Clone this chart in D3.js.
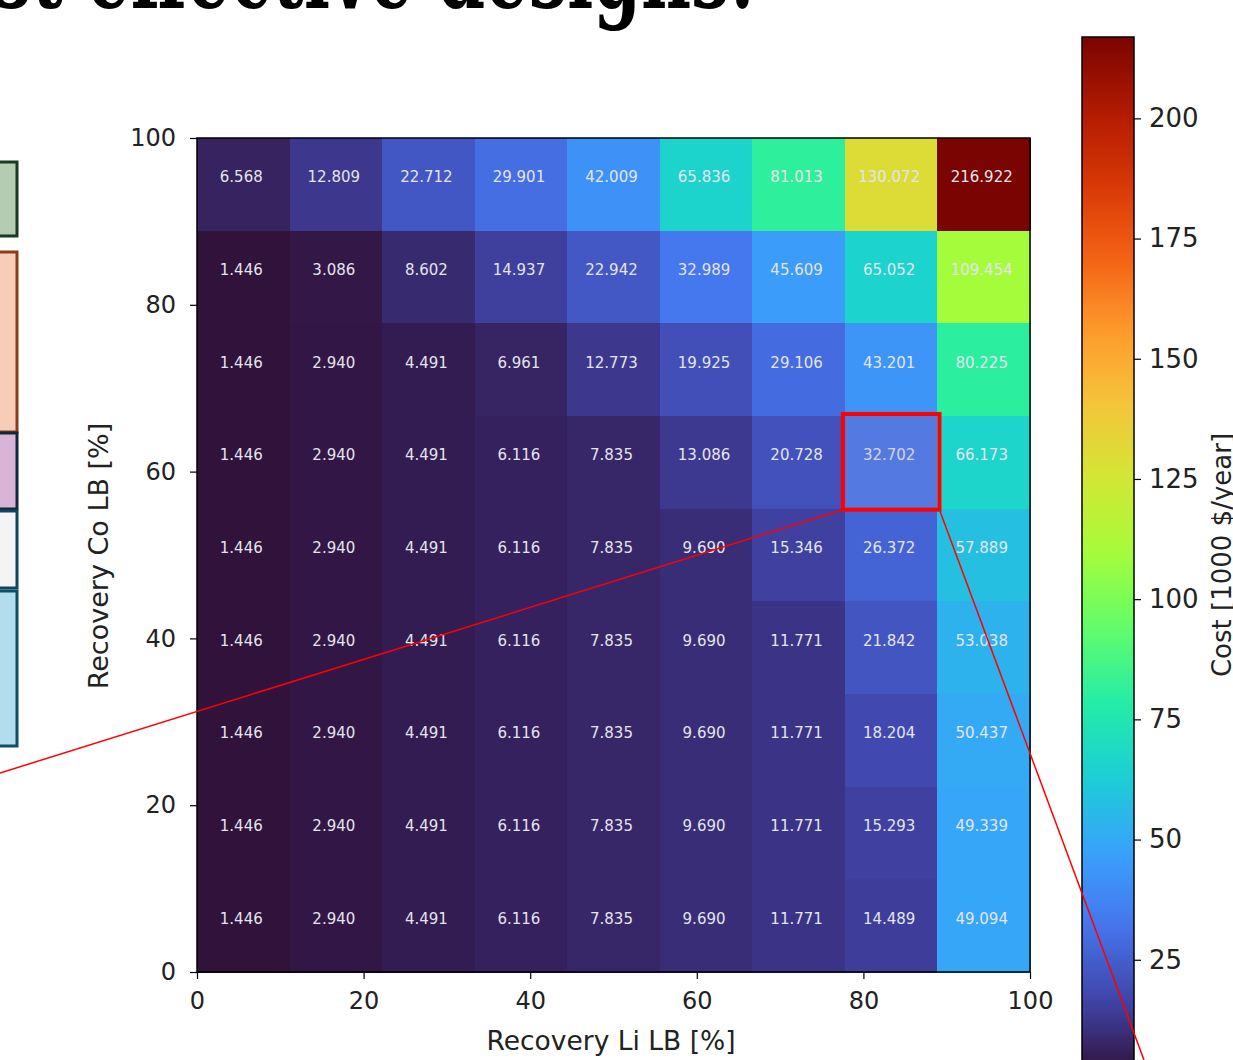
<!DOCTYPE html>
<html>
<head>
<meta charset="utf-8">
<script src="https://cdn.jsdelivr.net/npm/d3@7"></script>
<style>
  body { margin: 0; background: #fff; }
  svg { display: block; }
</style>
</head>
<body>
<div id="chart"></div>
<script>
// --------------------------------------
//  Data
// --------------------------------------

const liTicks = [0, 20, 40, 60, 80, 100];
const coTicks = [0, 20, 40, 60, 80, 100];
const costTicks = [25, 50, 75, 100, 125, 150, 175, 200];

// rows listed top (highest Co LB) to bottom
const costRows = [
  [6.568, 12.809, 22.712, 29.901, 42.009, 65.836, 81.013, 130.072, 216.922],
  [1.446, 3.086, 8.602, 14.937, 22.942, 32.989, 45.609, 65.052, 109.454],
  [1.446, 2.940, 4.491, 6.961, 12.773, 19.925, 29.106, 43.201, 80.225],
  [1.446, 2.940, 4.491, 6.116, 7.835, 13.086, 20.728, 32.702, 66.173],
  [1.446, 2.940, 4.491, 6.116, 7.835, 9.690, 15.346, 26.372, 57.889],
  [1.446, 2.940, 4.491, 6.116, 7.835, 9.690, 11.771, 21.842, 53.038],
  [1.446, 2.940, 4.491, 6.116, 7.835, 9.690, 11.771, 18.204, 50.437],
  [1.446, 2.940, 4.491, 6.116, 7.835, 9.690, 11.771, 15.293, 49.339],
  [1.446, 2.940, 4.491, 6.116, 7.835, 9.690, 11.771, 14.489, 49.094]
];

// highlighted design (column, row from top)
const highlight = {col: 7, row: 3};

// matplotlib-style turbo colormap stops
const turboStops = ["#30123b", "#4145ab", "#4675ed", "#39a2fc", "#1bcfd4",
  "#24eca6", "#61fc6c", "#a4fc3b", "#d1e834", "#f3c63a", "#fe9b2d",
  "#f36315", "#d93806", "#b11901", "#7a0402"];
const turbo = d3.piecewise(d3.interpolateRgb, turboStops);

// --------------------------------------
//  Canvas
// --------------------------------------

const width = 1233;
const height = 1060;
const plot = {left: 197, right: 1030, top: 138, bottom: 972};
const cbar = {left: 1082, right: 1134, top: 37, bottom: 1073};

const svg = d3.select("#chart")
  .append("svg")
    .attr("width", width)
    .attr("height", height);

const nCols = costRows[0].length;
const step = 100 / nCols;

const cells = [];
costRows.forEach((row, r) => row.forEach((v, c) => {
  cells.push({col: c, row: r, v: v, li0: c * step, co1: 100 - r * step});
}));

// --------------------------------------
//  Scales
// --------------------------------------

const vmin = d3.min(cells, d => d.v);
const vmax = d3.max(cells, d => d.v);

const x = d3.scaleLinear().domain([0, 100]).range([plot.left, plot.right]);
const y = d3.scaleLinear().domain([0, 100]).range([plot.bottom, plot.top]);
const color = d3.scaleSequential(turbo).domain([vmin, vmax]);
const cy = d3.scaleLinear().domain([vmin, vmax]).range([cbar.bottom, cbar.top]);

// --------------------------------------
//  Title (cropped) and side boxes
// --------------------------------------

const titleFont = "'DejaVu Serif', 'Liberation Serif', serif";
const probe = svg.append("text")
    .attr("font-family", titleFont)
    .attr("font-weight", "bold")
    .attr("font-size", 104)
    .text("effective designs:");
const sx = 668 / probe.node().getComputedTextLength();
probe.remove();

svg.append("text")
    .attr("transform", `translate(755, 8) scale(${sx}, 1)`)
    .attr("text-anchor", "end")
    .attr("font-family", titleFont)
    .attr("font-weight", "bold")
    .attr("font-size", 104)
    .attr("fill", "#000")
    .text("Most effective designs:");

const sideBoxes = [
  {y0: 162, y1: 236, fill: "#b4ccb2", stroke: "#183a22"},
  {y0: 252, y1: 432, fill: "#f7cdb9", stroke: "#8a3c1c"},
  {y0: 433, y1: 509, fill: "#d9b4d6", stroke: "#10283a"},
  {y0: 511, y1: 588, fill: "#f4f4f4", stroke: "#0e4660"},
  {y0: 591, y1: 746, fill: "#b3dcec", stroke: "#0e4e6a"}
];

svg.append("g")
  .selectAll("rect")
  .data(sideBoxes)
  .join("rect")
    .attr("x", -20)
    .attr("y", d => d.y0)
    .attr("width", 37)
    .attr("height", d => d.y1 - d.y0)
    .attr("fill", d => d.fill)
    .attr("stroke", d => d.stroke)
    .attr("stroke-width", 3);

// --------------------------------------
//  Heatmap
// --------------------------------------

const heat = svg.append("g");

heat.selectAll("rect")
  .data(cells)
  .join("rect")
    .attr("x", d => x(d.li0))
    .attr("y", d => y(d.co1))
    .attr("width", x(step) - x(0) + 1)
    .attr("height", y(0) - y(step) + 1)
    .attr("shape-rendering", "crispEdges")
    .attr("fill", d => color(d.v));

heat.selectAll("text")
  .data(cells)
  .join("text")
    .attr("x", d => x(d.li0 + step / 2) - 2)
    .attr("y", d => y(d.co1 - step / 2) - 7)
    .attr("text-anchor", "middle")
    .attr("dominant-baseline", "central")
    .attr("font-family", "'DejaVu Sans', sans-serif")
    .attr("font-size", 15)
    .attr("fill", "#e4e4ec")
    .text(d => d.v.toFixed(3));

// frame
svg.append("rect")
    .attr("x", plot.left)
    .attr("y", plot.top)
    .attr("width", plot.right - plot.left)
    .attr("height", plot.bottom - plot.top)
    .attr("fill", "none")
    .attr("stroke", "#000")
    .attr("stroke-width", 1.5);

// --------------------------------------
//  Axes
// --------------------------------------

const xAxis = svg.append("g")
    .attr("transform", `translate(0, ${plot.bottom})`)
    .call(d3.axisBottom(x).tickValues(liTicks).tickSize(7).tickPadding(13));

const yAxis = svg.append("g")
    .attr("transform", `translate(${plot.left}, 0)`)
    .call(d3.axisLeft(y).tickValues(coTicks).tickSize(7).tickPadding(14));

[xAxis, yAxis].forEach(a => {
  a.select(".domain").remove();
  a.selectAll("line").attr("stroke", "#000").attr("stroke-width", 1.2);
  a.selectAll("text")
    .attr("font-family", "'DejaVu Sans', sans-serif")
    .attr("font-size", 24)
    .attr("fill", "#222");
});

svg.append("text")
    .attr("x", 611)
    .attr("y", 1050)
    .attr("text-anchor", "middle")
    .attr("font-family", "'DejaVu Sans', sans-serif")
    .attr("font-size", 26.5)
    .attr("fill", "#222")
    .text("Recovery Li LB [%]");

svg.append("text")
    .attr("transform", `translate(108, 556) rotate(-90)`)
    .attr("text-anchor", "middle")
    .attr("font-family", "'DejaVu Sans', sans-serif")
    .attr("font-size", 27)
    .attr("fill", "#222")
    .text("Recovery Co LB [%]");

// --------------------------------------
//  Colorbar
// --------------------------------------

const grad = svg.append("defs")
  .append("linearGradient")
    .attr("id", "turbo")
    .attr("x1", 0).attr("y1", 1)
    .attr("x2", 0).attr("y2", 0);

grad.selectAll("stop")
  .data(d3.range(0, 1.0001, 0.02))
  .join("stop")
    .attr("offset", d => d)
    .attr("stop-color", d => turbo(d));

svg.append("rect")
    .attr("x", cbar.left)
    .attr("y", cbar.top)
    .attr("width", cbar.right - cbar.left)
    .attr("height", cbar.bottom - cbar.top)
    .attr("fill", "url(#turbo)")
    .attr("stroke", "#000")
    .attr("stroke-width", 1.5);

const cAxis = svg.append("g")
    .attr("transform", `translate(${cbar.right}, 0)`)
    .call(d3.axisRight(cy).tickValues(costTicks).tickSize(7).tickPadding(8));

cAxis.select(".domain").remove();
cAxis.selectAll("line").attr("stroke", "#000").attr("stroke-width", 1.2);
cAxis.selectAll("text")
    .attr("font-family", "'DejaVu Sans', sans-serif")
    .attr("font-size", 26)
    .attr("fill", "#222");

svg.append("text")
    .attr("transform", `translate(1231, 555) rotate(-90)`)
    .attr("text-anchor", "middle")
    .attr("font-family", "'DejaVu Sans', sans-serif")
    .attr("font-size", 26)
    .attr("fill", "#222")
    .text("Cost [1000 $/year]");

// --------------------------------------
//  Highlight and callout lines
// --------------------------------------

const hx0 = x(highlight.col * step) - 2;
const hx1 = x((highlight.col + 1) * step) + 2;
const hy0 = y(100 - highlight.row * step) - 2;
const hy1 = y(100 - (highlight.row + 1) * step) + 1;

svg.append("rect")
    .attr("x", hx0)
    .attr("y", hy0)
    .attr("width", hx1 - hx0)
    .attr("height", hy1 - hy0)
    .attr("fill", "#8a8ab8")
    .attr("fill-opacity", 0.2)
    .attr("stroke", "#ff0000")
    .attr("stroke-width", 4);

svg.append("line")
    .attr("x1", hx0).attr("y1", hy1)
    .attr("x2", 0).attr("y2", 773)
    .attr("stroke", "#ff0000")
    .attr("stroke-width", 1.5);

svg.append("line")
    .attr("x1", hx1).attr("y1", hy1)
    .attr("x2", 1144).attr("y2", 1060)
    .attr("stroke", "#ff0000")
    .attr("stroke-width", 1.5);
</script>
</body>
</html>
